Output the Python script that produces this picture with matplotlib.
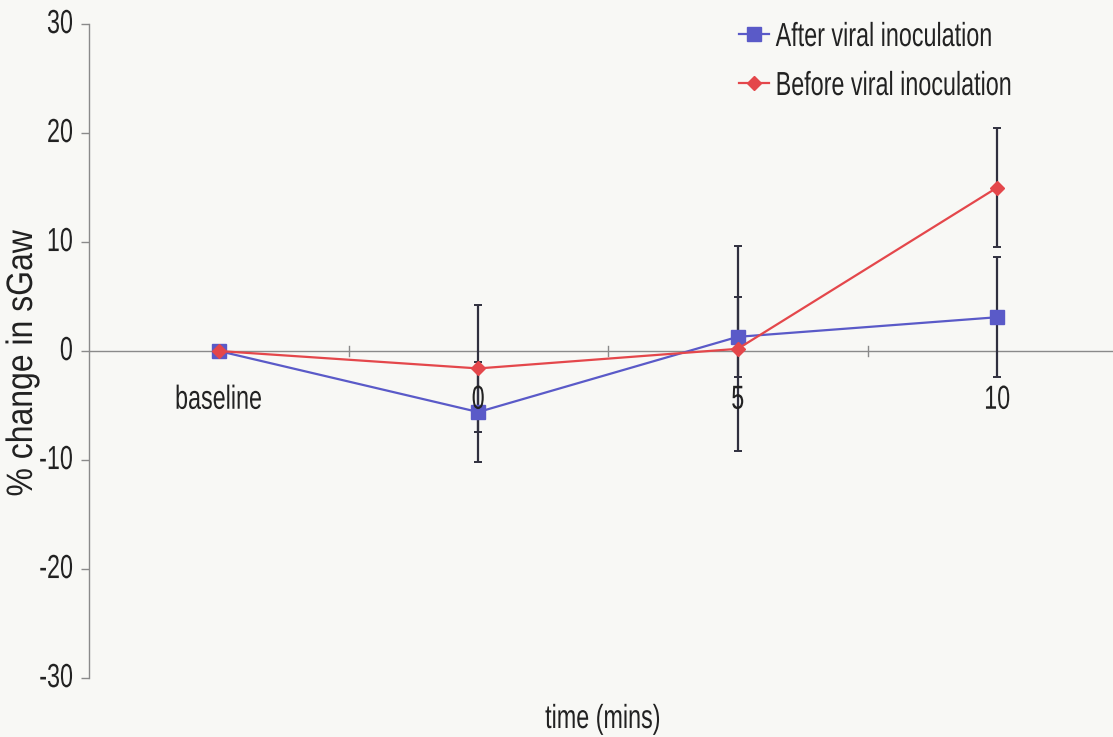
import matplotlib
matplotlib.use("Agg")
import matplotlib.pyplot as plt
import matplotlib.transforms as mtransforms
from matplotlib.patheffects import AbstractPathEffect
import numpy as np

categories = ["baseline", "0", "5", "10"]
after_vals = [0.0, -5.6, 1.3, 3.1]
after_err = [0.0, 4.6, 3.7, 5.5]
before_vals = [0.0, -1.6, 0.2, 15.0]
before_err = [0.0, 5.8, 9.4, 5.5]
yticks = [-30, -20, -10, 0, 10, 20, 30]

plt.rcParams['font.family'] = ['Liberation Sans', 'DejaVu Sans']


class Scaled(AbstractPathEffect):
    """Scale text glyphs in their own frame (mimics a narrow typeface)."""
    def __init__(self, sx=1.0, sy=1.0, align='left'):
        super().__init__()
        self.sx, self.sy, self.align = sx, sy, align

    def draw_path(self, renderer, gc, tpath, affine, rgbFace=None):
        v = tpath.vertices
        w = v[:, 0].max() if len(v) else 0.0
        shift = {'left': 0.0, 'center': (1 - self.sx) * w / 2,
                 'right': (1 - self.sx) * w}[self.align]
        t = mtransforms.Affine2D().scale(self.sx, self.sy).translate(shift, 0) + affine
        renderer.draw_path(gc, tpath, t, rgbFace)


W, H = 1113, 737
fig = plt.figure(figsize=(W/100, H/100), dpi=100)
bg = '#f8f8f5'
fig.patch.set_facecolor(bg)
left, right = 89, 1127
top, bottom = 24, 678
ax = fig.add_axes([left/W, 1-bottom/H, (right-left)/W, (bottom-top)/H])
ax.set_facecolor('none')

x = np.arange(len(categories))
blue = '#5a5ac8'
red = '#e4474b'
ecol = '#30303f'

ax.errorbar(x[1:], after_vals[1:], yerr=after_err[1:], fmt='none', ecolor=ecol,
            elinewidth=1.6, capsize=3, capthick=1.4, zorder=2)
ax.errorbar(x[1:], before_vals[1:], yerr=before_err[1:], fmt='none', ecolor=ecol,
            elinewidth=1.6, capsize=3, capthick=1.4, zorder=2)
ax.plot(x, after_vals, color=blue, marker='s', markersize=10, lw=1.6,
        label='After viral inoculation', zorder=3)
ax.plot(x, before_vals, color=red, marker='D', markersize=7, lw=1.6,
        label='Before viral inoculation', zorder=4)

ax.set_xlim(-0.5, 3.5)
ax.set_ylim(-30, 30)
ax.axhline(0, color='#8a8a8a', lw=1.0, zorder=1)
for xt in [0.5, 1.5, 2.5]:
    ax.plot([xt, xt], [-0.45, 0.45], color='#8a8a8a', lw=1.0, zorder=1)

for s in ['top', 'right', 'bottom']:
    ax.spines[s].set_visible(False)
ax.spines['left'].set_color('#8a8a8a')
ax.spines['left'].set_linewidth(1.0)

tcol = '#222222'
fs_small = 16.8   # width-matched size
sy = 1.43         # vertical stretch -> tall narrow look
ax.set_yticks(yticks)
ax.set_yticklabels([])
ax.tick_params(axis='y', length=6, width=1, color='#8a8a8a', direction='out')
ax.set_xticks([])

ytrans = mtransforms.blended_transform_factory(fig.transFigure, ax.transData)
for v in yticks:
    t = fig.text(73/W, v - 0.83, str(v), transform=ytrans, ha='right', va='baseline',
                 fontsize=fs_small, color=tcol)
    t.set_path_effects([Scaled(1.0, sy)])

for xi, lab in zip(x, categories):
    t = ax.text(xi, -5.3, lab, ha='center', va='baseline', fontsize=fs_small, color=tcol)
    t.set_path_effects([Scaled(1.0, sy)])

t = fig.text(603/W, 1-728/H, 'time (mins)', ha='center', va='baseline',
             fontsize=fs_small, color=tcol)
t.set_path_effects([Scaled(1.0, sy)])

t = fig.text(32/W, 1-363/H, '% change in sGaw', ha='center', va='baseline',
             rotation=90, rotation_mode='anchor', fontsize=23, color=tcol)
t.set_path_effects([Scaled(1.0, 1.15)])

fs = 24
leg = ax.legend(loc='upper left', frameon=False, fontsize=fs, handlelength=0.9,
                handletextpad=0.2, labelspacing=0.54, borderaxespad=0, borderpad=0,
                bbox_to_anchor=(739/W, 1-22/H), bbox_transform=fig.transFigure)
for txt in leg.get_texts():
    txt.set_color(tcol)
    txt.set_path_effects([Scaled(0.70, 1.0, 'left')])

fig.savefig('out.png', dpi=100, facecolor=fig.get_facecolor())
